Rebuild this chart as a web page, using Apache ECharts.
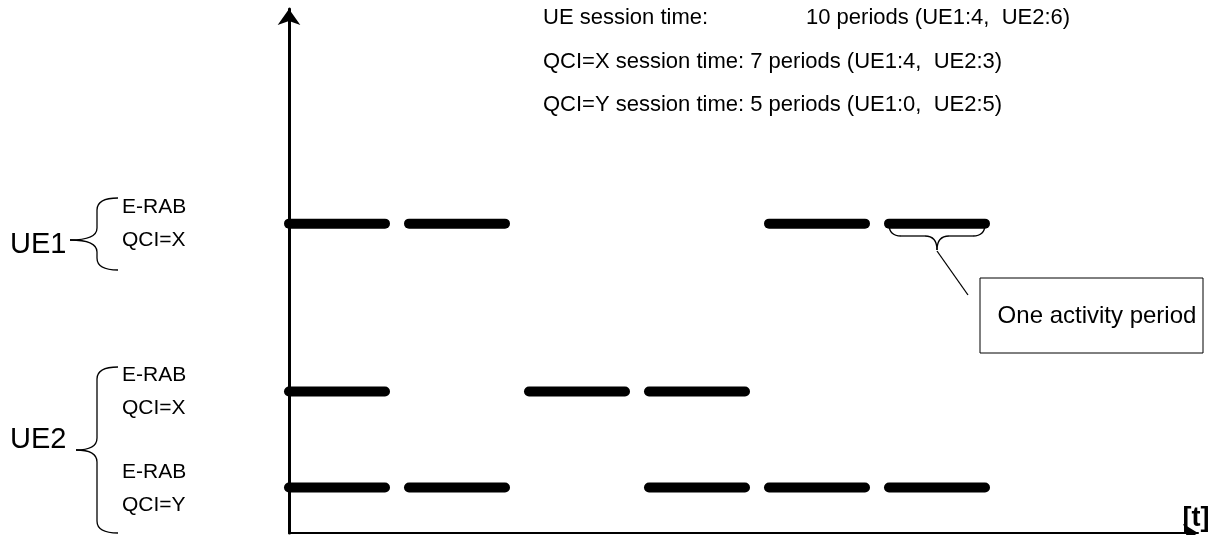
<!DOCTYPE html>
<html><head><meta charset="utf-8">
<script src="https://cdn.jsdelivr.net/npm/echarts@6/dist/echarts.min.js"></script>
<style>html,body{margin:0;padding:0;background:#fff}#c{width:1221px;height:535px}</style>
</head><body><div id="c"></div>
<script>
// ---- data ----
const periodLength = 0.8;              // active part of each period (time units)
const rowLevels = [12.9, 5.9, 1.9];    // vertical position of each bearer row
const ue1QciX = [1, 1, 0, 0, 1, 1];    // activity per period
const ue2QciX = [1, 0, 1, 1, 0, 0];
const ue2QciY = [1, 1, 0, 1, 1, 1];
const rowActivity = [ue1QciX, ue2QciX, ue2QciY];
const bearerLines = [['E-RAB', 'QCI=X'], ['E-RAB', 'QCI=X'], ['E-RAB', 'QCI=Y']];
const ueLabels = ['UE1', 'UE2'];
const summaryLabels = ['UE session time:', 'QCI=X session time:', 'QCI=Y session time:'];
const summaryValues = ['10 periods (UE1:4,  UE2:6)', '7 periods (UE1:4,  UE2:3)', '5 periods (UE1:0,  UE2:5)'];
const annotationText = 'One activity period';
const timeLabel = '[t]';

// ---- build segments ----
const segments = [];
rowActivity.forEach((arr, r) => {
  arr.forEach((on, i) => { if (on) segments.push([i, i + periodLength, rowLevels[r]]); });
});

const FONT = "'Liberation Sans', Arial, sans-serif";
const chart = echarts.init(document.getElementById('c'));

function txt(x, y, text, size, align, weight) {
  return { type: 'text', x: x, y: y, z: 10,
    style: { text: text, fontSize: size, fontFamily: FONT, fill: '#000', fontWeight: weight || 'normal',
      align: align || 'left', verticalAlign: 'middle', textAlign: align || 'left', textVerticalAlign: 'middle' } };
}
const LS = { stroke: '#000', lineWidth: 1.3, fill: null };
function curve(x1, y1, cx, cy, x2, y2) {
  return { type: 'bezierCurve', z: 10, shape: { x1, y1, x2, y2, cpx1: cx, cpy1: cy }, style: Object.assign({}, LS) };
}
function seg(x1, y1, x2, y2) {
  return { type: 'line', z: 10, shape: { x1, y1, x2, y2 }, style: Object.assign({}, LS) };
}
function brace(x, yTop, yBot, tipX, tipY) {
  const r = 12;
  return [
    curve(x + 21, yTop, x, yTop, x, yTop + r),
    seg(x, yTop + r, x, tipY - r),
    curve(x, tipY - r, x, tipY, tipX, tipY),
    curve(tipX, tipY, x, tipY, x, tipY + r),
    seg(x, tipY + r, x, yBot - r),
    curve(x, yBot - r, x, yBot, x + 21, yBot)
  ];
}

let graphics = [];
// left labels
graphics.push(txt(10, 245, ueLabels[0], 29));
graphics.push(txt(10, 440, ueLabels[1], 29));
const bearerY = [223, 391, 488];
bearerLines.forEach((ls, i) => {
  graphics.push(txt(122, bearerY[i] - 16, ls[0], 21));
  graphics.push(txt(122, bearerY[i] + 17, ls[1], 21));
});
graphics = graphics.concat(brace(97, 198, 270, 70, 240));
graphics = graphics.concat(brace(97, 367, 533, 76, 450));
// summary text
const sumY = [18, 62, 105];
graphics.push(txt(543, sumY[0], summaryLabels[0], 22));
graphics.push(txt(806, sumY[0], summaryValues[0], 22));
for (let i = 1; i < 3; i++) graphics.push(txt(543, sumY[i], summaryLabels[i] + ' ' + summaryValues[i], 22));
// annotation brace under one period
graphics = graphics.concat([
  curve(889, 224, 889, 236, 901, 236),
  seg(901, 236, 925, 236),
  curve(925, 236, 937, 236, 937, 250),
  curve(937, 250, 937, 236, 949, 236),
  seg(949, 236, 973, 236),
  curve(973, 236, 985, 236, 985, 224)
]);
graphics.push(seg(937, 251, 968, 295));
graphics.push({ type: 'rect', z: 10, shape: { x: 980, y: 278, width: 223, height: 75 }, style: { fill: '#fff', stroke: '#000', lineWidth: 1 } });
graphics.push(txt(1097, 316, annotationText, 24, 'center'));
graphics.push(txt(1196, 519, timeLabel, 27, 'center', 'bold'));

chart.setOption({
  animation: false,
  backgroundColor: '#fff',
  grid: { left: 289, right: 23, top: 9, bottom: 2 },
  xAxis: { type: 'value', min: 0, max: 7.575, splitLine: { show: false }, axisTick: { show: false }, axisLabel: { show: false },
    axisLine: { lineStyle: { color: '#000', width: 2 }, symbol: ['none', 'arrow'], symbolSize: [14, 15] } },
  yAxis: { type: 'value', min: 0, max: 21.85, splitLine: { show: false }, axisTick: { show: false }, axisLabel: { show: false },
    axisLine: { show: true, lineStyle: { color: '#000', width: 3 }, symbol: ['none', 'arrow'], symbolSize: [17, 16] } },
  series: [{
    type: 'custom', clip: false, z: 5,
    data: segments,
    renderItem: function (params, api) {
      const p1 = api.coord([api.value(0), api.value(2)]);
      const p2 = api.coord([api.value(1), api.value(2)]);
      return { type: 'line', shape: { x1: p1[0], y1: p1[1], x2: p2[0], y2: p2[1] },
        style: { stroke: '#000', lineWidth: 10, lineCap: 'round' } };
    }
  }],
  graphic: graphics
});
</script></body></html>
